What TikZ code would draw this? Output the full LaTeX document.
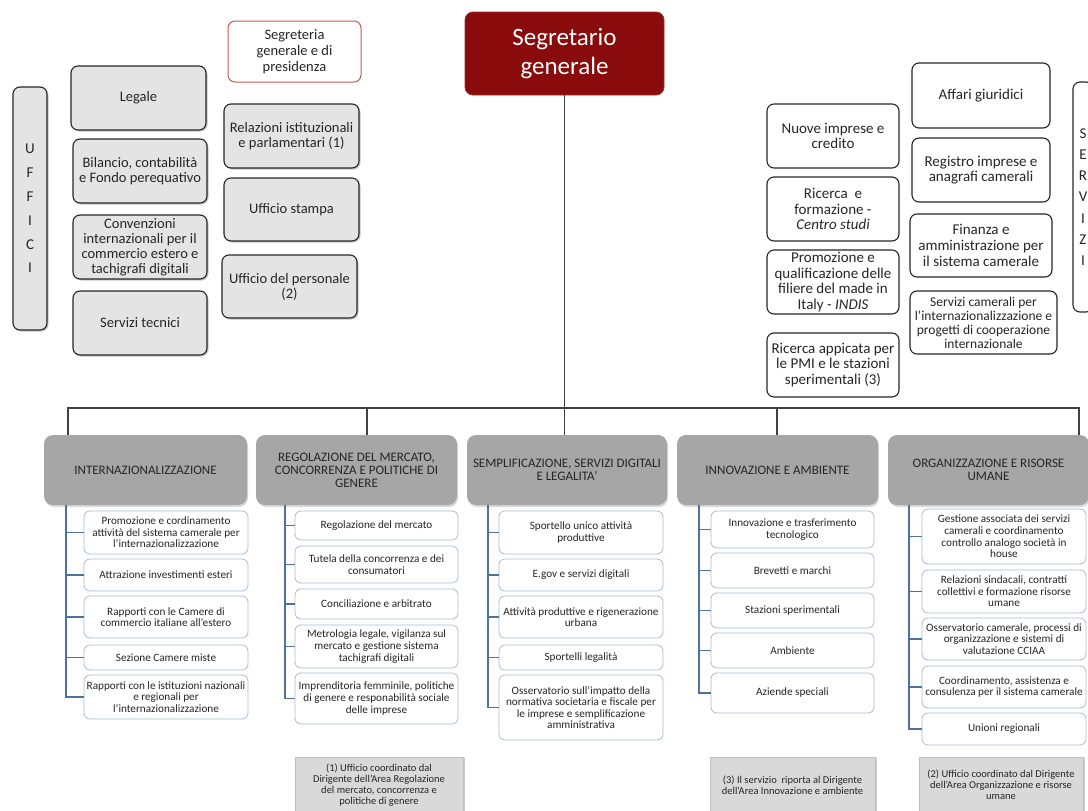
\documentclass[tikz,border=0pt]{standalone}
\usepackage{fontspec}
\setmainfont{Carlito}
\usepackage{tikz}
\usepackage{xcolor}
\usetikzlibrary{shadows}
\definecolor{ink}{HTML}{262626}
\definecolor{linegray}{HTML}{404040}
\definecolor{segred}{HTML}{8A0B0B}
\definecolor{segedge}{HTML}{A32B2B}
\definecolor{offgray}{HTML}{E4E4E4}
\definecolor{areagray}{HTML}{A6A6A6}
\definecolor{voceedge}{HTML}{A7BDD8}
\definecolor{spineblue}{HTML}{50709E}
\definecolor{notagray}{HTML}{D9D9D9}
\definecolor{redline}{HTML}{C65A57}
\tikzset{
  wh/.style 2 args={minimum width=#1pt,minimum height=#2pt},
  segbox/.style={fill=segred,draw=segedge,line width=0.8pt,rounded corners=8pt,
                 text=white,align=center,inner sep=2pt,
                 font=\fontsize{25}{29}\selectfont},
  ufficio/.style={draw=ink,fill=offgray,line width=1.1pt,rounded corners=7pt,
                  align=center,inner sep=2pt,text=ink,
                  font=\fontsize{14.5}{15}\selectfont,
                  drop shadow={shadow xshift=1.5pt,shadow yshift=-1.5pt,opacity=0.45}},
  segrbox/.style={draw=redline,fill=white,line width=1pt,rounded corners=7pt,
                  align=center,inner sep=2pt,text=ink,
                  font=\fontsize{14.5}{16}\selectfont},
  servbox/.style={draw=ink,fill=white,line width=1.1pt,rounded corners=7pt,
                  align=center,inner sep=2pt,text=ink,
                  font=\fontsize{15}{15.7}\selectfont},
  area/.style={fill=areagray,rounded corners=9pt,align=center,inner sep=2pt,
               text=ink,font=\fontsize{13}{13}\selectfont,
               drop shadow={shadow xshift=1pt,shadow yshift=-2pt,opacity=0.3}},
  voce/.style={draw=voceedge,fill=white,line width=0.8pt,rounded corners=6pt,
               align=center,inner sep=1pt,text=ink,
               font=\fontsize{11.2}{11.6}\selectfont},
  nota/.style={draw=black!25,fill=notagray,align=center,inner sep=2pt,text=ink,
               font=\fontsize{10.5}{11}\selectfont,
               drop shadow={shadow xshift=2pt,shadow yshift=-1pt,opacity=0.4}},
  conn/.style={draw=linegray,line width=1.3pt},
  spine/.style={draw=spineblue,line width=1.7pt}
}
\begin{document}
\begin{tikzpicture}[x=1pt,y=-1pt]
  \useasboundingbox (0,0) rectangle (1088,811);
  \clip (0,0) rectangle (1088,811);
  \fill[white] (0,0) rectangle (1088,811);

  % vertice
  \node[segbox,wh={199}{83}] (seg) at (564.5,53.5) {Segretario\\generale};
  \node[segrbox,wh={133}{61}] (segr) at (294.5,51.5)
    {Segreteria\\generale e di\\presidenza};

  % uffici di staff
  \node[ufficio,wh={34}{243},font=\fontsize{15}{23.8}\selectfont] (uffici)
    at (30,208.5) {U\\F\\F\\I\\C\\I};
  \node[ufficio,wh={135}{64}] (legale) at (138.5,98) {Legale};
  \node[ufficio,wh={134}{64}] (bilancio) at (140,171)
    {Bilancio, contabilità\\e Fondo perequativo};
  \node[ufficio,wh={134}{64}] (convenz) at (140,247)
    {Convenzioni\\internazionali per il\\commercio estero e\\tachigrafi digitali};
  \node[ufficio,wh={134}{64}] (servtec) at (140,323) {Servizi tecnici};
  \node[ufficio,wh={135}{64}] (relaz) at (291.5,136)
    {Relazioni istituzionali\\e parlamentari (1)};
  \node[ufficio,wh={135}{63}] (stampa) at (291.5,209.5) {Ufficio stampa};
  \node[ufficio,wh={135}{63}] (personale) at (289.5,286.5)
    {Ufficio del personale\\(2)};

  % servizi
  \node[servbox,wh={132}{64}] (nuove) at (833,136) {Nuove imprese e\\credito};
  \node[servbox,wh={132}{64}] (ricform) at (833,209)
    {Ricerca\ \ e\\formazione -\\\textit{Centro studi}};
  \node[servbox,wh={132}{64}] (promoz) at (833,282)
    {Promozione e\\qualificazione delle\\filiere del made in\\Italy - \textit{INDIS}};
  \node[servbox,wh={132}{64}] (ricapp) at (833,365)
    {Ricerca appicata per\\le PMI e le stazioni\\sperimentali (3)};
  \node[servbox,wh={138}{65}] (affari) at (981,95.5) {Affari giuridici};
  \node[servbox,wh={138}{64}] (registro) at (981,170)
    {Registro imprese e\\anagrafi camerali};
  \node[servbox,wh={142}{63}] (finanza) at (981,245.5)
    {Finanza e\\amministrazione per\\il sistema camerale};
  \node[servbox,wh={147}{63},font=\fontsize{13.5}{14}\selectfont] (servcam)
    at (983.5,322.5)
    {Servizi camerali per\\l'internazionalizzazione e\\progetti di cooperazione\\internazionale};
  \node[servbox,wh={20}{230},font=\fontsize{15}{21.2}\selectfont] (servizi)
    at (1083,197) {S\\E\\R\\V\\I\\Z\\I};

  % aree
  \node[area,wh={203}{70}] (intl) at (145.5,470) {INTERNAZIONALIZZAZIONE};
  \node[area,wh={201}{70}] (regol) at (356.5,470)
    {REGOLAZIONE DEL MERCATO,\\CONCORRENZA E POLITICHE DI\\GENERE};
  \node[area,wh={200}{70}] (semp) at (567,470)
    {SEMPLIFICAZIONE, SERVIZI DIGITALI\\E LEGALITA'};
  \node[area,wh={201}{70}] (innov) at (777.5,470) {INNOVAZIONE E AMBIENTE};
  \node[area,wh={201}{70}] (org) at (988.5,470)
    {ORGANIZZAZIONE E RISORSE\\UMANE};

  % internazionalizzazione
  \node[voce,wh={164}{43}] (i1) at (166,532.5)
    {Promozione e cordinamento\\attività del sistema camerale per\\l'internazionalizzazione};
  \node[voce,wh={164}{32}] (i2) at (166,575) {Attrazione investimenti esteri};
  \node[voce,wh={164}{42}] (i3) at (166,617)
    {Rapporti con le Camere di\\commercio italiane all'estero};
  \node[voce,wh={164}{25}] (i4) at (166,657.5) {Sezione Camere miste};
  \node[voce,wh={164}{44}] (i5) at (166,697)
    {Rapporti con le istituzioni nazionali\\e regionali per\\l'internazionalizzazione};

  % regolazione
  \node[voce,wh={163}{29}] (r1) at (376.5,525.5) {Regolazione del mercato};
  \node[voce,wh={163}{37}] (r2) at (376.5,564.5)
    {Tutela della concorrenza e dei\\consumatori};
  \node[voce,wh={163}{30}] (r3) at (376.5,604) {Conciliazione e arbitrato};
  \node[voce,wh={163}{43}] (r4) at (376.5,646.5)
    {Metrologia legale, vigilanza sul\\mercato e gestione sistema\\tachigrafi digitali};
  \node[voce,wh={163}{51}] (r5) at (376.5,698.5)
    {Imprenditoria femminile, politiche\\di genere e responabilità sociale\\delle imprese};

  % semplificazione
  \node[voce,wh={164}{43}] (s1) at (581,532.5)
    {Sportello unico attività\\produttive};
  \node[voce,wh={164}{32}] (s2) at (581,575) {E.gov e servizi digitali};
  \node[voce,wh={164}{42}] (s3) at (581,617)
    {Attività produttive e rigenerazione\\urbana};
  \node[voce,wh={164}{25}] (s4) at (581,657.5) {Sportelli legalità};
  \node[voce,wh={164}{65}] (s5) at (581,707.5)
    {Osservatorio sull'impatto della\\normativa societaria e fiscale per\\le imprese e semplificazione\\amministrativa};

  % innovazione
  \node[voce,wh={163}{37}] (n1) at (792.5,529.5)
    {Innovazione e trasferimento\\tecnologico};
  \node[voce,wh={163}{35}] (n2) at (792.5,570.5) {Brevetti e marchi};
  \node[voce,wh={163}{35}] (n3) at (792.5,610.5) {Stazioni sperimentali};
  \node[voce,wh={163}{35}] (n4) at (792.5,650.5) {Ambiente};
  \node[voce,wh={163}{40}] (n5) at (792.5,693) {Aziende speciali};

  % organizzazione
  \node[voce,wh={164}{55}] (o1) at (1004,536.5)
    {Gestione associata dei servizi\\camerali e coordinamento\\controllo analogo società in\\house};
  \node[voce,wh={164}{43}] (o2) at (1004,591.5)
    {Relazioni sindacali, contratti\\collettivi e formazione risorse\\umane};
  \node[voce,wh={164}{42}] (o3) at (1004,639)
    {Osservatorio camerale, processi di\\organizzazione e sistemi di\\valutazione CCIAA};
  \node[voce,wh={164}{42}] (o4) at (1004,687)
    {Coordinamento, assistenza e\\consulenza per il sistema camerale};
  \node[voce,wh={164}{32}] (o5) at (1004,729) {Unioni regionali};

  % note
  \node[nota,wh={168}{56}] (nota1) at (379,785)
    {(1) Ufficio coordinato dal\\Dirigente dell'Area Regolazione\\del mercato, concorrenza e\\politiche di genere};
  \node[nota,wh={165}{56}] (nota3) at (792.5,785)
    {(3) Il servizio\ \ riporta al Dirigente\\dell'Area Innovazione e ambiente};
  \node[nota,wh={164}{56}] (nota2) at (1001,785)
    {(2) Ufficio coordinato dal Dirigente\\dell'Area Organizzazione e risorse\\umane};

  % collegamenti
  \coordinate (tapA) at (68,408);
  \coordinate (tapB) at (367,408);
  \coordinate (tapD) at (777,408);
  \coordinate (tapE) at (1079,408);
  \draw[conn] (seg.south) -- (seg.south |- semp.north);
  \draw[conn] (intl.north -| tapA) -- (tapA) -- (tapE) -- (org.north -| tapE);
  \draw[conn] (tapB) -- (regol.north -| tapB);
  \draw[conn] (tapD) -- (innov.north -| tapD);

  \coordinate (spA) at (66,0);
  \coordinate (spB) at (285,0);
  \coordinate (spC) at (488,0);
  \coordinate (spD) at (699,0);
  \coordinate (spE) at (909,0);
  \foreach \h/\s/\p in {intl/spA/i,regol/spB/r,semp/spC/s,innov/spD/n,org/spE/o}{
    \draw[spine] (\h.south -| \s) |- (\p5.west);
    \foreach \k in {1,...,4}
      \draw[spine] (\p\k.west) -- (\p\k.west -| \s);
  }
\end{tikzpicture}
\end{document}
